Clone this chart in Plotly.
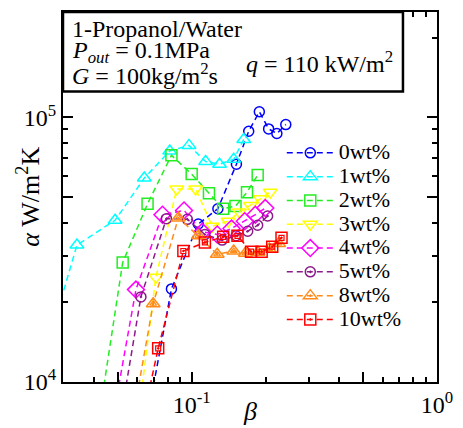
import plotly.graph_objects as go

# beta (x) and heat transfer coefficient alpha [W/m^2K] (y) per concentration.
# The first point of each series lies below the plotted range; only its dashed
# lead-in segment is visible.
beta_0 = [0.0641, 0.0827, 0.1064, 0.1279, 0.1522, 0.1708, 0.1887, 0.2059, 0.2225, 0.2419]
alpha_0 = [6310, 22470, 39540, 45150, 66530, 88640, 105000, 90440, 86880, 93900]

beta_1 = [0.02639, 0.03406, 0.04873, 0.0641, 0.0814, 0.0975, 0.114, 0.1299, 0.1484, 0.163]
alpha_1 = [14610, 32920, 40830, 58960, 74630, 78340, 68060, 66510, 69430, 82490]

beta_2 = [0.04089, 0.05233, 0.0661, 0.0827, 0.1, 0.1176, 0.1344, 0.1509, 0.1681, 0.1858]
alpha_2 = [6310, 28280, 47130, 71880, 61020, 51660, 45150, 46200, 52120, 60500]

beta_3 = [0.05928, 0.07145, 0.08694, 0.1038, 0.1213, 0.1408, 0.1565, 0.1735, 0.1905, 0.2091]
alpha_3 = [6310, 24850, 53620, 53620, 38770, 40480, 43860, 46470, 49210, 52120]

beta_4 = [0.04642, 0.05928, 0.07603, 0.09309, 0.1105, 0.1271, 0.1453, 0.1646, 0.1818, 0.1995]
alpha_4 = [6310, 22340, 42870, 44490, 36930, 36090, 38000, 40480, 42870, 45410]

beta_5 = [0.05, 0.06211, 0.07893, 0.0960, 0.1132, 0.1331, 0.1518, 0.1692, 0.1858, 0.2040]
alpha_5 = [6310, 20970, 41420, 41180, 36090, 34370, 35680, 37130, 39100, 42390]

beta_8 = [0.056, 0.06968, 0.08829, 0.1064, 0.1271, 0.1484, 0.1656, 0.1864, 0.2072, 0.2261]
alpha_8 = [6310, 19750, 41660, 35680, 30380, 31260, 30640, 30900, 31800, 33390]

beta_10 = [0.06124, 0.07303, 0.0925, 0.1132, 0.1344, 0.1537, 0.1746, 0.1929, 0.2130, 0.2324]
alpha_10 = [6310, 13400, 31260, 33680, 35370, 35680, 31080, 31080, 32450, 35070]

series_names = ["0wt%", "1wt%", "2wt%", "3wt%", "4wt%", "5wt%", "8wt%", "10wt%"]

# axis ticks
x_major = [0.05, 0.1, 0.5, 1]
x_major_text = ["", "10<sup>-1</sup>", "", "10<sup>0</sup>"]
x_minor = [0.03, 0.04, 0.06, 0.07, 0.08, 0.09, 0.2, 0.3, 0.4, 0.6, 0.7, 0.8, 0.9]
y_major = [1e4, 5e4, 1e5]
y_major_text = ["10<sup>4</sup>", "", "10<sup>5</sup>"]
y_minor = [2e4, 3e4, 4e4, 6e4, 7e4, 8e4, 9e4, 2e5]

xs = [beta_0, beta_1, beta_2, beta_3, beta_4, beta_5, beta_8, beta_10]
ys = [alpha_0, alpha_1, alpha_2, alpha_3, alpha_4, alpha_5, alpha_8, alpha_10]

styles = [
    dict(color="#0000ff", symbol="circle-open", size=10),
    dict(color="#00ffff", symbol="triangle-up-open", size=12),
    dict(color="#22ee22", symbol="square-open", size=11),
    dict(color="#ffff00", symbol="triangle-down-open", size=12),
    dict(color="#ff00ff", symbol="diamond-open", size=13),
    dict(color="#8b1a8b", symbol="circle-open-dot", size=10),
    dict(color="#ff8c1a", symbol="triangle-up-open-dot", size=12),
    dict(color="#ff0000", symbol="square-open-dot", size=11),
]
# inner outlines for the double-outline symbols
inner = {6: dict(symbol="triangle-up-open", size=6), 7: dict(symbol="square-open", size=5)}

fig = go.Figure()
for i, (x, y, name, st) in enumerate(zip(xs, ys, series_names, styles)):
    fig.add_trace(go.Scatter(
        x=x, y=y, mode="lines+markers",
        name='<span style="font-size:22px">' + name + "</span>",
        line=dict(color=st["color"], width=1.5, dash="6px,4px"),
        marker=dict(symbol=st["symbol"], size=st["size"], color=st["color"],
                    line=dict(color=st["color"], width=1.5)),
    ))
    if i in inner:
        fig.add_trace(go.Scatter(
            x=x, y=y, mode="markers", showlegend=False, hoverinfo="skip",
            marker=dict(symbol=inner[i]["symbol"], size=inner[i]["size"], color=st["color"],
                        line=dict(color=st["color"], width=1.2)),
        ))

axis_common = dict(
    type="log", showline=True, linecolor="black", linewidth=2, mirror="allticks",
    ticks="inside", ticklen=10, tickwidth=1.5, tickcolor="black",
    showgrid=False, zeroline=False, tickmode="array",
    tickfont=dict(family="Liberation Serif", size=24, color="black"),
)
fig.update_xaxes(
    **axis_common, range=[-1.5245, 0], tickvals=x_major, ticktext=x_major_text,
    minor=dict(tickmode="array", tickvals=x_minor, ticks="inside", ticklen=5,
               tickwidth=1.5, tickcolor="black", showgrid=False),
)
fig.update_yaxes(
    **axis_common, range=[4, 5.398], tickvals=y_major, ticktext=y_major_text,
    minor=dict(tickmode="array", tickvals=y_minor, ticks="inside", ticklen=5,
               tickwidth=1.5, tickcolor="black", showgrid=False),
)

# info box in the upper left of the plot area
fig.add_shape(type="rect", xref="paper", yref="paper", x0=0, x1=0.909, y0=0.785, y1=1,
              line=dict(color="black", width=2.5), fillcolor="white", layer="above")

txt = dict(family="Liberation Serif", size=24, color="black")
fig.add_annotation(xref="paper", yref="paper", x=0.02, y=0.953, xanchor="left", yanchor="middle",
                   text="1-Propanol/Water", showarrow=False, font=txt)
fig.add_annotation(xref="paper", yref="paper", x=0.02, y=0.893, xanchor="left", yanchor="middle",
                   text="<i>P</i><sub><i>out</i></sub> = 0.1MPa", showarrow=False, font=txt)
fig.add_annotation(xref="paper", yref="paper", x=0.02, y=0.832, xanchor="left", yanchor="middle",
                   text="<i>G</i> = 100kg/m<sup>2</sup>s", showarrow=False, font=txt)
fig.add_annotation(xref="paper", yref="paper", x=0.485, y=0.866, xanchor="left", yanchor="middle",
                   text="<i>q</i> = 110 kW/m<sup>2</sup>", showarrow=False, font=txt)

# axis titles
fig.add_annotation(xref="paper", yref="paper", x=0.5, y=-0.08, xanchor="center", yanchor="middle",
                   text="<i>β</i>", showarrow=False,
                   font=dict(family="Liberation Serif", size=26, color="black"))
fig.add_annotation(xref="paper", yref="paper", x=-0.094, y=0.5, xanchor="center", yanchor="middle",
                   text="<i>α</i> W/m<sup>2</sup>K", showarrow=False, textangle=-90,
                   font=dict(family="Liberation Serif", size=26, color="black"))

fig.update_layout(
    width=463, height=428,
    margin=dict(l=63, r=24, t=10, b=43),
    paper_bgcolor="white", plot_bgcolor="white",
    font=dict(family="Liberation Serif", color="black"),
    showlegend=True,
    legend=dict(x=0.585, y=0.665, xanchor="left", yanchor="top",
                bgcolor="rgba(0,0,0,0)", borderwidth=0,
                font=dict(family="Liberation Serif", size=16, color="black"),
                itemwidth=47, tracegroupgap=0),
)

fig.write_html("out.html")
